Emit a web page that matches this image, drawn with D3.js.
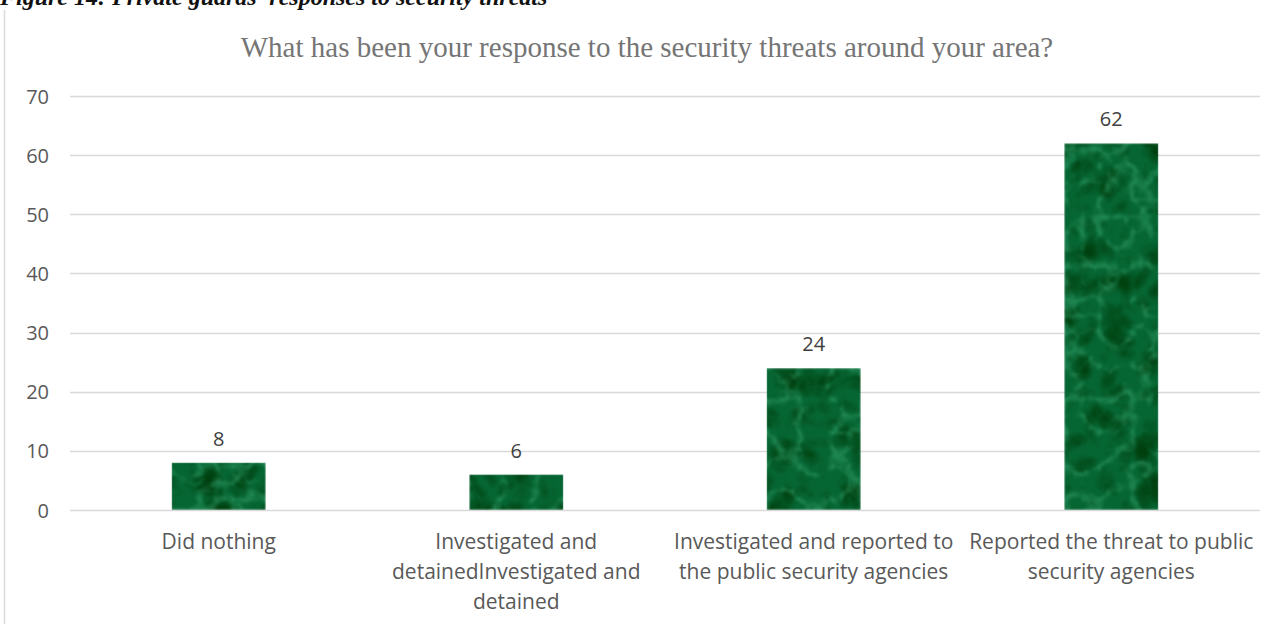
<!DOCTYPE html>
<html>
<head>
<meta charset="utf-8">
<script src="https://cdn.jsdelivr.net/npm/d3@7"></script>
<style>
  html, body { margin: 0; padding: 0; background: #fff; }
  svg { display: block; }
</style>
</head>
<body>
<svg id="chart" width="1288" height="624"></svg>
<script>
// Responses and counts
const categories = [
  "Did nothing",
  "Investigated and detainedInvestigated and detained",
  "Investigated and reported to the public security agencies",
  "Reported the threat to public security agencies"
];
const categoryLines = [
  ["Did nothing"],
  ["Investigated and", "detainedInvestigated and", "detained"],
  ["Investigated and reported to", "the public security agencies"],
  ["Reported the threat to public", "security agencies"]
];
const values = [8, 6, 24, 62];
const yTicks = [0, 10, 20, 30, 40, 50, 60, 70];

const W = 1288, H = 624;
const svg = d3.select("#chart");
const labelFont = "'Open Sans', 'Liberation Sans', sans-serif";

// Marble-like green texture for bars
const defs = svg.append("defs");
const flt = defs.append("filter").attr("id", "marble")
  .attr("x", 0).attr("y", 0).attr("width", 1).attr("height", 1)
  .attr("color-interpolation-filters", "sRGB");
flt.append("feTurbulence").attr("type", "turbulence")
  .attr("baseFrequency", "0.03").attr("numOctaves", 4).attr("seed", 11).attr("result", "noise");
// veins where the turbulence is close to zero
flt.append("feColorMatrix").attr("in", "noise").attr("type", "matrix")
  .attr("values", "0 0 0 0 0  0 0 0 0 0  0 0 0 0 0  -2.6 0 0 0 0.75").attr("result", "veinA");
flt.append("feColorMatrix").attr("in", "noise").attr("type", "matrix")
  .attr("values", "0 0 0 0 0  0 0 0 0 0  0 0 0 0 0  0 2.0 0 0 -0.45").attr("result", "shadeA");
flt.append("feFlood").attr("flood-color", "#066633").attr("result", "base");
flt.append("feFlood").attr("flood-color", "#00400f").attr("result", "dark");
flt.append("feFlood").attr("flood-color", "#2f9a66").attr("result", "light");
flt.append("feComposite").attr("in", "dark").attr("in2", "shadeA").attr("operator", "in").attr("result", "shade");
flt.append("feComposite").attr("in", "light").attr("in2", "veinA").attr("operator", "in").attr("result", "veins");
flt.append("feMerge").attr("result", "tex").call(m => {
  m.append("feMergeNode").attr("in", "base");
  m.append("feMergeNode").attr("in", "shade");
  m.append("feMergeNode").attr("in", "veins");
});
flt.append("feGaussianBlur").attr("in", "tex").attr("stdDeviation", 0.9).attr("result", "soft");
flt.append("feComposite").attr("in", "soft").attr("in2", "SourceGraphic").attr("operator", "in");

// Chart frame (left edge visible)
svg.append("line").attr("x1", 4.5).attr("x2", 4.5).attr("y1", 10).attr("y2", H)
  .attr("stroke", "#d9d9d9").attr("stroke-width", 1.5);

// Figure caption, partially above the page edge
svg.append("text").attr("x", 0).attr("y", 5)
  .attr("font-family", "'Liberation Serif', 'Times New Roman', serif")
  .attr("font-size", 24).attr("font-weight", "bold").attr("font-style", "italic")
  .attr("fill", "#111")
  .text("Figure 14: Private guards' responses to security threats");

// Title
svg.append("text").attr("x", 647).attr("y", 57).attr("text-anchor", "middle")
  .attr("font-family", "'Liberation Serif', 'Times New Roman', serif")
  .attr("font-size", 29).attr("fill", "#757575")
  .text("What has been your response to the security threats around your area?");

const plotLeft = 70, plotRight = 1260, plotTop = 96, plotBottom = 510;

const x = d3.scaleBand().domain(categories).range([plotLeft, plotRight])
  .paddingInner(0.684).paddingOuter(0.342);
const y = d3.scaleLinear().domain([0, 70]).range([plotBottom, plotTop]);

// Gridlines
svg.append("g").selectAll("line").data(yTicks).join("line")
  .attr("x1", plotLeft).attr("x2", plotRight)
  .attr("y1", d => Math.round(y(d)) + 0.5).attr("y2", d => Math.round(y(d)) + 0.5)
  .attr("stroke", "#d9d9d9").attr("stroke-width", 1.5);

// Y axis labels
const yAxis = d3.axisLeft(y).tickValues(yTicks).tickSize(0).tickPadding(0);
const gy = svg.append("g").attr("transform", `translate(${plotLeft - 21},0)`).call(yAxis);
gy.select(".domain").remove();
gy.selectAll("text").attr("font-family", labelFont).attr("font-size", 20)
  .attr("fill", "#595959").attr("dy", "0.35em");

// Bars
svg.append("g").selectAll("rect").data(values).join("rect")
  .attr("x", (d, i) => x(categories[i]))
  .attr("y", d => y(d))
  .attr("width", x.bandwidth())
  .attr("height", d => y(0) - y(d))
  .attr("fill", "#066633")
  .attr("filter", "url(#marble)");

// Value labels
svg.append("g").selectAll("text").data(values).join("text")
  .attr("x", (d, i) => x(categories[i]) + x.bandwidth() / 2)
  .attr("y", d => y(d) - 17)
  .attr("text-anchor", "middle")
  .attr("font-family", labelFont).attr("font-size", 20).attr("fill", "#404040")
  .text(d => d);

// Category labels
const gx = svg.append("g");
categories.forEach((c, i) => {
  const t = gx.append("text")
    .attr("x", x(c) + x.bandwidth() / 2)
    .attr("y", 549)
    .attr("text-anchor", "middle")
    .attr("font-family", labelFont).attr("font-size", 21).attr("fill", "#595959");
  categoryLines[i].forEach((line, j) => {
    t.append("tspan").attr("x", x(c) + x.bandwidth() / 2).attr("dy", j === 0 ? 0 : 30).text(line);
  });
});
</script>
</body>
</html>
